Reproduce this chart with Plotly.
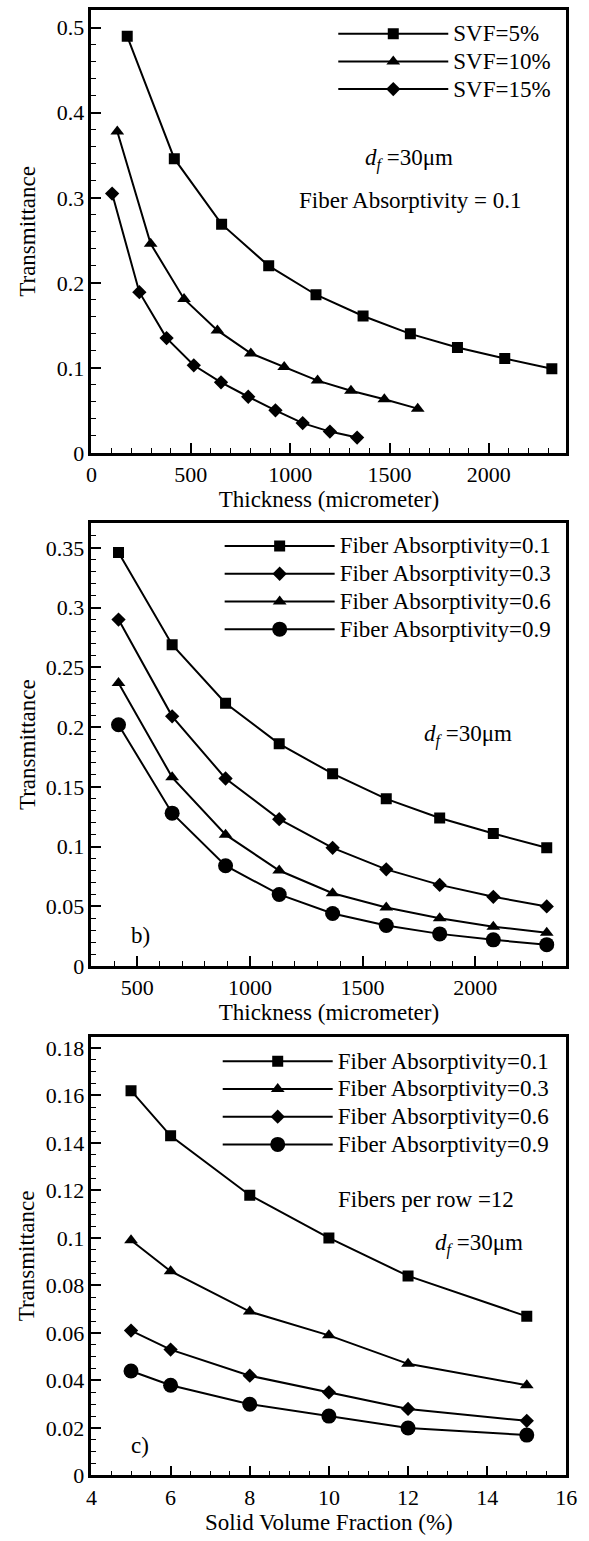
import plotly.graph_objects as go

# ---------------- data ----------------
# Panel a: transmittance vs thickness for different SVF (absorptivity 0.1)
thick_svf5 = [180, 417, 655, 892, 1130, 1367, 1605, 1842, 2080, 2317]
trans_svf5 = [0.490, 0.346, 0.269, 0.220, 0.186, 0.161, 0.140, 0.124, 0.111, 0.099]
thick_svf10 = [130, 298, 466, 634, 802, 970, 1138, 1306, 1474, 1642]
trans_svf10 = [0.378, 0.246, 0.181, 0.144, 0.117, 0.101, 0.085, 0.073, 0.063, 0.052]
thick_svf15 = [104, 241, 378, 515, 652, 789, 926, 1063, 1200, 1337]
trans_svf15 = [0.305, 0.189, 0.135, 0.103, 0.083, 0.066, 0.050, 0.035, 0.025, 0.018]
svf_labels = ["SVF=5%", "SVF=10%", "SVF=15%"]

# Panel b: transmittance vs thickness for different fiber absorptivity
thick_b = [417, 655, 892, 1130, 1367, 1605, 1842, 2080, 2317]
trans_b_01 = [0.346, 0.269, 0.220, 0.186, 0.161, 0.140, 0.124, 0.111, 0.099]
trans_b_03 = [0.290, 0.209, 0.157, 0.123, 0.099, 0.081, 0.068, 0.058, 0.050]
trans_b_06 = [0.237, 0.158, 0.110, 0.080, 0.061, 0.049, 0.040, 0.033, 0.028]
trans_b_09 = [0.202, 0.128, 0.084, 0.060, 0.044, 0.034, 0.027, 0.022, 0.018]
abs_labels = ["Fiber Absorptivity=0.1", "Fiber Absorptivity=0.3",
              "Fiber Absorptivity=0.6", "Fiber Absorptivity=0.9"]

# Panel c: transmittance vs solid volume fraction
svf_c = [5, 6, 8, 10, 12, 15]
trans_c_01 = [0.162, 0.143, 0.118, 0.100, 0.084, 0.067]
trans_c_03 = [0.099, 0.086, 0.069, 0.059, 0.047, 0.038]
trans_c_06 = [0.061, 0.053, 0.042, 0.035, 0.028, 0.023]
trans_c_09 = [0.044, 0.038, 0.030, 0.025, 0.020, 0.017]

# ---------------- styling ----------------
W, H = 589, 1541
FONT = "Liberation Serif, Times New Roman, serif"
FS_TICK = 22
FS_TEXT = 23
LEG_FS = 19          # sets legend row spacing
BLACK = "black"


def px_x(p):
    return p / W


def px_y(p):
    return 1 - p / H


MSIZE = {"square": 11, "triangle-up": 12, "diamond": 11, "circle": 15}

fig = go.Figure()


def add(x, y, name, symbol, xa, ya, legend):
    fig.add_trace(go.Scatter(
        x=x, y=y, mode="lines+markers",
        name="<span style='font-size:%dpx'>%s</span>" % (FS_TEXT, name),
        line=dict(color=BLACK, width=2),
        marker=dict(symbol=symbol, size=MSIZE[symbol], color=BLACK),
        xaxis=xa, yaxis=ya, legend=legend))


add(thick_svf5, trans_svf5, svf_labels[0], "square", "x", "y", "legend")
add(thick_svf10, trans_svf10, svf_labels[1], "triangle-up", "x", "y", "legend")
add(thick_svf15, trans_svf15, svf_labels[2], "diamond", "x", "y", "legend")

add(thick_b, trans_b_01, abs_labels[0], "square", "x2", "y2", "legend2")
add(thick_b, trans_b_03, abs_labels[1], "diamond", "x2", "y2", "legend2")
add(thick_b, trans_b_06, abs_labels[2], "triangle-up", "x2", "y2", "legend2")
add(thick_b, trans_b_09, abs_labels[3], "circle", "x2", "y2", "legend2")

add(svf_c, trans_c_01, abs_labels[0], "square", "x3", "y3", "legend3")
add(svf_c, trans_c_03, abs_labels[1], "triangle-up", "x3", "y3", "legend3")
add(svf_c, trans_c_06, abs_labels[2], "diamond", "x3", "y3", "legend3")
add(svf_c, trans_c_09, abs_labels[3], "circle", "x3", "y3", "legend3")


def common_axis(dom, rng, dtick, minor, anchor):
    return dict(domain=dom, range=rng, anchor=anchor, dtick=dtick, tick0=0,
                ticks="inside", ticklen=10, tickwidth=1.5, tickcolor=BLACK,
                minor=dict(dtick=minor, ticks="inside", ticklen=5, tickwidth=1.2, tickcolor=BLACK),
                showline=True, linewidth=2.5, linecolor=BLACK, mirror=True,
                showgrid=False, zeroline=False,
                tickfont=dict(family=FONT, size=FS_TICK, color=BLACK))


def xaxis(dom, rng, dtick, minor, title, anchor):
    d = common_axis(dom, rng, dtick, minor, anchor)
    d["title"] = dict(text=title, font=dict(family=FONT, size=FS_TEXT, color=BLACK), standoff=2)
    return d


xd = [px_x(88), px_x(577)]
dom1 = [px_y(456), px_y(9)]
dom2 = [px_y(974), px_y(527)]
dom3 = [px_y(1488), px_y(1045)]
fig.update_layout(
    width=W, height=H, margin=dict(l=0, r=0, t=0, b=0),
    paper_bgcolor="white", plot_bgcolor="white",
    font=dict(family=FONT, size=FS_TICK, color=BLACK),
    xaxis=xaxis(xd, [0, 2390], 500, 100, "Thickness (micrometer)", "y"),
    yaxis=common_axis(dom1, [0, 0.521], 0.1, 0.02, "x"),
    xaxis2=xaxis(xd, [297, 2404], 500, 100, "Thickness (micrometer)", "y2"),
    yaxis2=common_axis(dom2, [0, 0.3706], 0.05, 0.01, "x2"),
    xaxis3=xaxis(xd, [4, 16], 2, 0.5, "Solid Volume Fraction (%)", "y3"),
    yaxis3=common_axis(dom3, [0, 0.1848], 0.02, 0.005, "x3"),
    showlegend=True,
)

leg_common = dict(bgcolor="rgba(0,0,0,0)", borderwidth=0, itemwidth=110,
                  font=dict(family=FONT, size=LEG_FS, color=BLACK),
                  xanchor="left", yanchor="top", tracegroupgap=0,
                  itemclick=False, itemdoubleclick=False)
fig.update_layout(
    legend=dict(x=px_x(337), y=px_y(14), **leg_common),
    legend2=dict(x=px_x(220), y=px_y(531), **leg_common),
    legend3=dict(x=px_x(218), y=px_y(1051), **leg_common),
)

DF = "<i>d<sub>f</sub></i> =30\u03bcm"


def note(text, x, y, size=FS_TEXT, angle=0, xanchor="left"):
    fig.add_annotation(text=text, x=px_x(x), y=px_y(y), xref="paper", yref="paper",
                       xanchor=xanchor, yanchor="middle", showarrow=False, textangle=angle,
                       font=dict(family=FONT, size=size, color=BLACK))


# y-axis titles
for dom in (dom1, dom2, dom3):
    note("Transmittance", 22, (1 - (dom[0] + dom[1]) / 2) * H, angle=-90, xanchor="center")

note(DF, 368, 160)
note("Fiber Absorptivity = 0.1", 300, 201)
note(DF, 428, 741)
note("b)", 127, 943)
note("Fibers per row =12", 340, 1209)
note(DF, 440, 1255)
note("c)", 127, 1458)

fig.write_html("out.html")
